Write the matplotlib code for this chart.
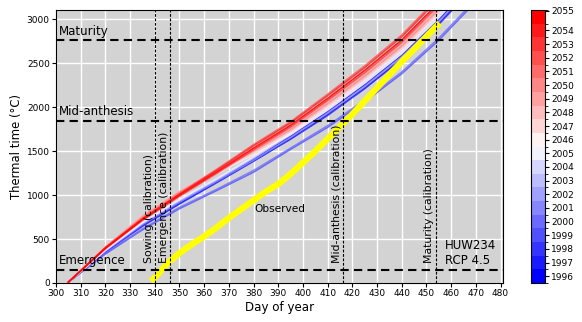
import matplotlib
matplotlib.use("Agg")
import matplotlib.pyplot as plt
import numpy as np
from matplotlib.colors import ListedColormap, BoundaryNorm
from matplotlib.cm import ScalarMappable

years = [1996, 1997, 1998, 1999, 2000, 2001, 2002, 2003, 2004, 2005,
         2046, 2047, 2048, 2049, 2050, 2051, 2052, 2053, 2054, 2055]

days_sim = [305, 320, 335, 350, 365, 380, 395, 410, 425, 440, 455, 470]

tt_1996 = [10, 355, 650, 900, 1140, 1385, 1640, 1915, 2215, 2550, 2950, 3400]
tt_1997 = [10, 360, 665, 925, 1160, 1410, 1670, 1950, 2255, 2590, 2995, 3450]
tt_1998 = [10, 350, 645, 905, 1150, 1390, 1635, 1905, 2210, 2545, 2940, 3390]
tt_1999 = [10, 330, 605, 845, 1050, 1260, 1520, 1770, 2060, 2380, 2760, 3200]
tt_2000 = [10, 335, 615, 860, 1065, 1280, 1535, 1790, 2080, 2400, 2785, 3225]
tt_2001 = [10, 362, 664, 922, 1154, 1395, 1655, 1932, 2236, 2569, 2972, 3425]
tt_2002 = [10, 369, 676, 938, 1177, 1425, 1685, 1968, 2275, 2611, 3019, 3475]
tt_2003 = [10, 372, 680, 935, 1170, 1420, 1690, 1975, 2280, 2615, 3025, 3480]
tt_2004 = [10, 372, 682, 946, 1188, 1440, 1700, 1986, 2294, 2632, 3042, 3500]
tt_2005 = [10, 375, 690, 950, 1185, 1435, 1705, 1990, 2300, 2640, 3050, 3510]
tt_2046 = [10, 406, 748, 1024, 1245, 1460, 1690, 1968, 2275, 2611, 3019, 3475]
tt_2047 = [10, 400, 740, 1015, 1245, 1470, 1720, 2010, 2320, 2660, 3070, 3530]
tt_2048 = [10, 409, 754, 1032, 1261, 1490, 1730, 2022, 2333, 2674, 3089, 3550]
tt_2049 = [10, 410, 760, 1040, 1280, 1520, 1760, 2058, 2372, 2716, 3136, 3600]
tt_2050 = [10, 405, 750, 1030, 1265, 1500, 1745, 2040, 2352, 2695, 3112, 3575]
tt_2051 = [10, 393, 718, 994, 1257, 1530, 1790, 2094, 2411, 2758, 3183, 3650]
tt_2052 = [10, 404, 736, 1018, 1292, 1575, 1835, 2148, 2470, 2821, 3254, 3725]
tt_2053 = [10, 390, 712, 986, 1245, 1515, 1775, 2076, 2391, 2737, 3160, 3625]
tt_2054 = [10, 400, 730, 1010, 1280, 1560, 1820, 2130, 2450, 2800, 3230, 3700]
tt_2055 = [10, 395, 722, 1000, 1262, 1535, 1795, 2100, 2420, 2765, 3190, 3660]

sim_series = [tt_1996, tt_1997, tt_1998, tt_1999, tt_2000, tt_2001, tt_2002,
              tt_2003, tt_2004, tt_2005, tt_2046, tt_2047, tt_2048, tt_2049,
              tt_2050, tt_2051, tt_2052, tt_2053, tt_2054, tt_2055]

days_obs = [338.5, 340, 345, 350, 355, 360, 365, 370, 375, 380, 385, 390, 395,
            400, 405, 410, 415, 420, 425, 430, 435, 440, 445, 450, 455.3]
tt_obs = [20, 60, 220, 340, 440, 530, 630, 740, 840, 940, 1040, 1125, 1240,
          1370, 1500, 1640, 1780, 1920, 2070, 2220, 2370, 2520, 2660, 2805, 2958]

stage_names = ["Emergence", "Mid-anthesis", "Maturity"]
stage_tt = [150, 1845, 2764]

calib_names = ["Sowing (calibration)", "Emergence (calibration)",
               "Mid-anthesis (calibration)", "Maturity (calibration)"]
calib_days = [340.2, 346.2, 416.2, 453.8]

W, H = 582, 322
fig = plt.figure(figsize=(W / 100, H / 100), dpi=100)
ax = fig.add_axes([56 / W, 1 - 283 / H, (503 - 56) / W, (283 - 10) / H])
ax.set_facecolor("#d3d3d3")
ax.grid(True, color="white", linewidth=1.0)
ax.set_axisbelow(True)

n = len(years)
cmap = ListedColormap(plt.get_cmap("bwr")(np.linspace(0, 1, n)))
for i, s in enumerate(sim_series):
    ax.plot(days_sim, s, color=cmap(i), linewidth=1.1, alpha=0.8, zorder=2)

ax.plot(days_obs, tt_obs, color="yellow", linewidth=4.5, zorder=3,
        solid_capstyle="butt")
ax.text(380.5, 840, "Observed", fontsize=7.6, va="center", ha="left", zorder=4)

for name, v in zip(stage_names, stage_tt):
    ax.axhline(v, color="black", linestyle=(0, (4, 2.5)), linewidth=1.5, zorder=4)
    ax.text(301, v + 28, name, fontsize=8.5, va="bottom", ha="left", zorder=5)

for name, d in zip(calib_names, calib_days):
    ax.axvline(d, color="black", linestyle=(0, (2.5, 1.5)), linewidth=0.8, zorder=4)
    ax.text(d - 0.6, 230, name, fontsize=7.8, rotation=90, va="bottom",
            ha="right", zorder=5)

ax.text(457.5, 185, "HUW234\nRCP 4.5", fontsize=8.5, va="bottom", ha="left",
        linespacing=1.15, zorder=5)

ax.set_xlim(300, 481)
ax.set_ylim(0, 3105)
ax.set_xticks(np.arange(300, 481, 10))
ax.set_yticks(np.arange(0, 3001, 500))
ax.tick_params(labelsize=6.5, length=3, pad=1.5)
ax.set_xlabel("Day of year", fontsize=8.6, labelpad=2)
ax.set_ylabel("Thermal time (°C)", fontsize=8.4, labelpad=3)

cax = fig.add_axes([531 / W, 1 - 283 / H, 14 / W, (283 - 10) / H])
norm = BoundaryNorm(np.arange(0, n + 1), n)
sm = ScalarMappable(norm=norm, cmap=cmap)
cb = fig.colorbar(sm, cax=cax)
tick_pos = list(np.arange(0, n - 1) + 0.5) + [n - 0.05]
cb.set_ticks(tick_pos)
cb.set_ticklabels([str(y) for y in years])
cb.ax.tick_params(labelsize=6.5, length=3, pad=1.5)
cb.outline.set_linewidth(0.8)

fig.savefig("out.png", dpi=100)
